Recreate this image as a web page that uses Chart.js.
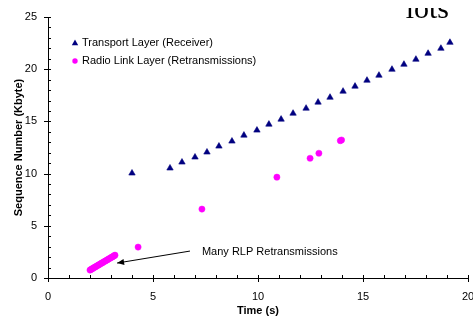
<!DOCTYPE html>
<html>
<head>
<meta charset="utf-8">
<script src="https://cdn.jsdelivr.net/npm/chart.js@4/dist/chart.umd.min.js"></script>
<style>
html,body{margin:0;padding:0;background:#fff;}
#wrap{width:473px;height:322px;position:relative;}
</style>
</head>
<body>
<div id="wrap"><canvas id="c" width="473" height="322"></canvas></div>
<script>
// ---- data ----
const transportTime = [4.00,5.81,6.38,7.00,7.57,8.14,8.76,9.33,9.95,10.52,11.10,11.67,12.29,12.86,13.43,14.05,14.62,15.19,15.76,16.38,16.95,17.52,18.10,18.71,19.14];
const transportSeq  = [10.04,10.52,11.09,11.57,12.05,12.62,13.10,13.67,14.15,14.72,15.20,15.77,16.25,16.83,17.30,17.88,18.36,18.93,19.41,19.98,20.46,20.94,21.51,21.99,22.56];
const rlpTime = [2.00,2.05,2.10,2.15,2.20,2.25,2.30,2.36,2.41,2.46,2.52,2.57,2.62,2.68,2.73,2.78,2.84,2.89,2.94,3.00,3.05,3.10,3.15,3.19,4.29,7.33,10.90,12.48,12.90,13.92,13.98];
const rlpSeq  = [0.76,0.82,0.88,0.94,1.00,1.06,1.12,1.19,1.25,1.31,1.38,1.44,1.50,1.57,1.63,1.69,1.76,1.82,1.88,1.95,2.01,2.07,2.13,2.19,2.96,6.60,9.66,11.47,11.95,13.15,13.22];
const seriesNames = ["Transport Layer (Receiver)", "Radio Link Layer (Retransmissions)"];
const xTickValues = [0,5,10,15,20];
const yTickValues = [0,5,10,15,20,25];
const annotationText = "Many RLP Retransmissions";
const cornerText = "Plots";

const FONT = "Arial, 'Liberation Sans', sans-serif";

const toPts = (xs, ys) => xs.map((x, i) => ({x: x, y: ys[i]}));

const tickPlugin = {
  id: 'customTicks',
  afterDraw(chart) {
    const ctx = chart.ctx;
    const xs = chart.scales.x, ys = chart.scales.y;
    const x0 = xs.getPixelForValue(0), y0 = ys.getPixelForValue(0);
    ctx.save();
    ctx.strokeStyle = '#000';
    ctx.lineWidth = 1;
    // axis lines
    ctx.beginPath();
    ctx.moveTo(Math.round(x0) + 0.5, ys.getPixelForValue(25));
    ctx.lineTo(Math.round(x0) + 0.5, y0);
    ctx.moveTo(x0, Math.round(y0) + 0.5);
    ctx.lineTo(xs.getPixelForValue(20) + 1, Math.round(y0) + 0.5);
    // x ticks
    for (let v = 0; v <= 20; v++) {
      const px = Math.round(xs.getPixelForValue(v)) + 0.5;
      const major = v % 5 === 0;
      ctx.moveTo(px, y0 - 3);
      ctx.lineTo(px, y0 + (major ? 4 : 0));
    }
    for (let v = 0; v <= 25; v++) {
      const py = Math.round(ys.getPixelForValue(v)) + 0.5;
      const major = v % 5 === 0;
      ctx.moveTo(x0 + 3, py);
      ctx.lineTo(x0 - (major ? 4 : 0), py);
    }
    ctx.stroke();

    // legend
    ctx.font = '11px ' + FONT;
    ctx.textBaseline = 'middle';
    const lx = 75, ly = [43, 61];
    chart.data.datasets.forEach((ds, i) => {
      ctx.fillStyle = ds.backgroundColor;
      ctx.beginPath();
      if (i === 0) {
        ctx.moveTo(lx, ly[i] - 3.5); ctx.lineTo(lx + 3.2, ly[i] + 2.2); ctx.lineTo(lx - 3.2, ly[i] + 2.2);
      } else {
        ctx.arc(lx, ly[i], 2.7, 0, Math.PI * 2);
      }
      ctx.closePath(); ctx.fill();
      ctx.fillStyle = '#000';
      ctx.fillText(ds.label, 82, ly[i]);
    });

    // annotation
    const tx = xs.getPixelForValue(6.76), ty = ys.getPixelForValue(2.58);
    const hx = xs.getPixelForValue(3.29), hy = ys.getPixelForValue(1.43);
    ctx.beginPath();
    ctx.moveTo(tx, ty); ctx.lineTo(hx, hy); ctx.stroke();
    const ang = Math.atan2(hy - ty, hx - tx);
    ctx.beginPath();
    ctx.moveTo(hx, hy);
    ctx.lineTo(hx - 7 * Math.cos(ang) + 3 * Math.sin(ang), hy - 7 * Math.sin(ang) - 3 * Math.cos(ang));
    ctx.lineTo(hx - 7 * Math.cos(ang) - 3 * Math.sin(ang), hy - 7 * Math.sin(ang) + 3 * Math.cos(ang));
    ctx.closePath(); ctx.fillStyle = '#000'; ctx.fill();
    ctx.fillText(annotationText, xs.getPixelForValue(7.33), ys.getPixelForValue(2.49));

    // clipped corner text (partly hidden behind the chart box)
    ctx.save();
    ctx.beginPath(); ctx.rect(404, 8, 69, 30); ctx.clip();
    ctx.font = '30px "Liberation Serif", serif';
    ctx.textBaseline = 'alphabetic';
    ctx.textAlign = 'left';
    ctx.fillStyle = '#000';
    ctx.fillText(cornerText, 389, 18);
    ctx.restore();
    ctx.restore();
  }
};

new Chart(document.getElementById('c'), {
  type: 'scatter',
  data: {
    datasets: [
      { label: seriesNames[0], data: toPts(transportTime, transportSeq), pointStyle: 'triangle',
        pointRadius: 3.7, backgroundColor: '#000080', borderColor: '#000080', borderWidth: 0.6 },
      { label: seriesNames[1], data: toPts(rlpTime, rlpSeq), pointStyle: 'circle',
        pointRadius: 3.1, backgroundColor: '#FF00FF', borderColor: '#FF00FF', borderWidth: 0.5 }
    ]
  },
  options: {
    responsive: false,
    animation: false,
    events: [],
    layout: { padding: { top: 17, right: 5, left: 0, bottom: 0 } },
    plugins: { legend: { display: false }, tooltip: { enabled: false } },
    scales: {
      x: {
        type: 'linear', min: 0, max: 20,
        afterBuildTicks(s) { s.ticks = xTickValues.map(v => ({value: v})); },
        afterFit(s) { s.height = 44; s.paddingRight = 0; s.paddingLeft = 0; },
        grid: { display: false, drawTicks: false },
        border: { display: false },
        ticks: { color: '#000', font: { family: FONT, size: 11 }, padding: 12, maxRotation: 0, autoSkip: false },
        title: { display: true, text: 'Time (s)', color: '#000', font: { family: FONT, size: 11, weight: 'bold' }, padding: { top: 10 } }
      },
      y: {
        type: 'linear', min: 0, max: 25,
        afterBuildTicks(s) { s.ticks = yTickValues.map(v => ({value: v})); },
        afterFit(s) { s.width = 48; s.paddingTop = 0; s.paddingBottom = 0; },
        grid: { display: false, drawTicks: false },
        border: { display: false },
        ticks: { color: '#000', font: { family: FONT, size: 11 }, padding: 11 },
        title: { display: true, text: 'Sequence Number (Kbyte)', color: '#000', font: { family: FONT, size: 11, weight: 'bold' }, padding: { top: 12, bottom: 0 } }
      }
    }
  },
  plugins: [tickPlugin]
});
</script>
</body>
</html>
